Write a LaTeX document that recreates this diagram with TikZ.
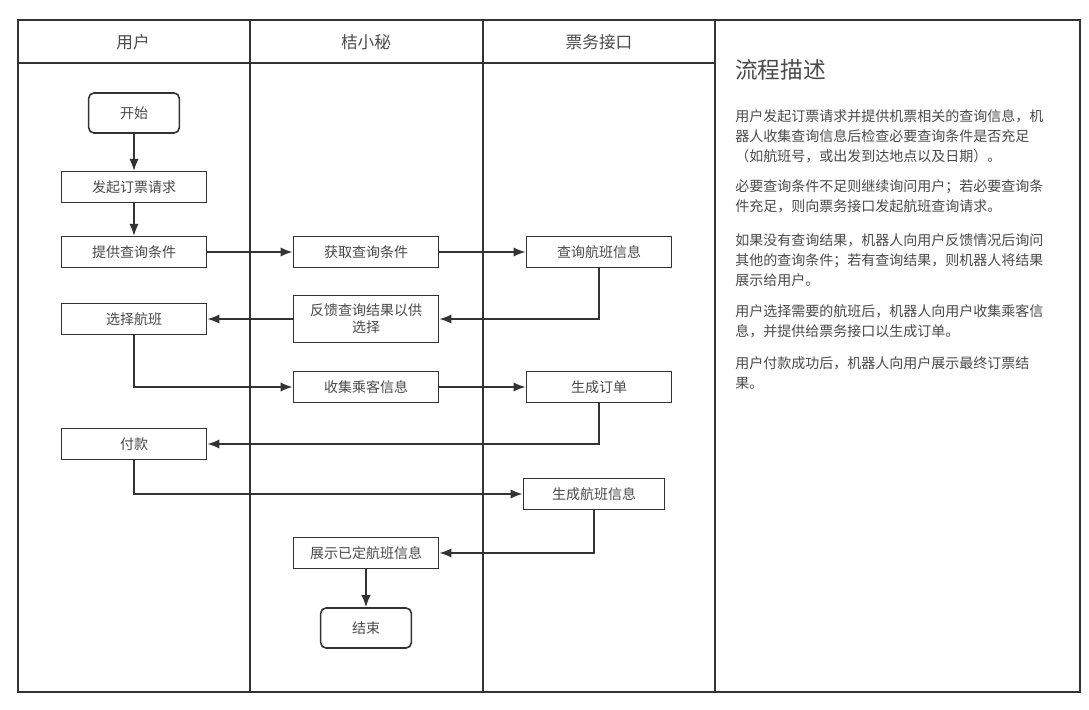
\documentclass[tikz,border=0pt]{standalone}
\usepackage{fontspec}
\setmainfont{Noto Sans CJK SC}
\usetikzlibrary{arrows.meta}
\definecolor{lanecol}{HTML}{333333}
\definecolor{txtcol}{HTML}{4A4A4A}

\begin{document}
\begin{tikzpicture}[x=0.75pt,y=-0.75pt,
    box/.style={draw=lanecol, line width=1.2pt, fill=white, text=txtcol,
      font=\fontsize{10.5}{12.75}\selectfont, minimum width=109pt,
      minimum height=23pt, align=center, inner sep=2pt},
    term/.style={box, rounded corners=4pt, minimum width=68pt, minimum height=30pt},
    flow/.style={draw=lanecol, line width=1.1pt, -{Latex[length=9pt,width=7pt]}},
    lanetxt/.style={text=txtcol, font=\fontsize{12.5}{14}\selectfont},
    desc/.style={anchor=north west, align=left, text=txtcol,
      font=\fontsize{10.5}{13.2}\selectfont, inner sep=0pt}]

      \useasboundingbox (0,0) rectangle (1089,710);

      % Swimlanes
      \draw[lanecol, line width=1.2pt] (18,20) rectangle (1080,692);
      \foreach \x in {250,483,715}
          \draw[lanecol, line width=1.2pt] (\x,20) -- (\x,692);
      \draw[lanecol, line width=1.6pt] (18,63) -- (715,63);

      % Lane titles
      \node[lanetxt] (hUser) at (133,42) {用户};
      \node[lanetxt] (hBot) at (366,42) {桔小秘};
      \node[lanetxt] (hApi) at (599,42) {票务接口};

      % Steps
      \node[term] (start) at (134,113) {开始};
      \node[box] (order) at (134,187) {发起订票请求};
      \node[box] (cond) at (134,252) {提供查询条件};
      \node[box] (getcond) at (366,252) {获取查询条件};
      \node[box] (query) at (599,252) {查询航班信息};
      \node[box, minimum height=35pt] (feedback) at (366,319) {反馈查询结果以供\\选择};
      \node[box] (choose) at (134,319) {选择航班};
      \node[box] (collect) at (366,387) {收集乘客信息};
      \node[box] (makeorder) at (599,387) {生成订单};
      \node[box] (pay) at (134,444) {付款};
      \node[box, minimum width=106pt] (flight) at (594,494) {生成航班信息};
      \node[box] (show) at (366,553) {展示已定航班信息};
      \node[term] (finish) at (366,628) {结束};

      % Connectors
      \draw[flow] (start) -- (order);
      \draw[flow] (order) -- (cond);
      \draw[flow] (cond) -- (getcond);
      \draw[flow] (getcond) -- (query);
      \draw[flow] (query.south) |- (feedback.east);
      \draw[flow] (feedback) -- (choose);
      \draw[flow] (choose.south) |- (collect.west);
      \draw[flow] (collect) -- (makeorder);
      \draw[flow] (makeorder.south) |- (pay.east);
      \draw[flow] (pay.south) |- (flight.west);
      \draw[flow] (flight.south) |- (show.east);
      \draw[flow] (show) -- (finish);

      % Description
      \node[anchor=west, text=txtcol, font=\fontsize{17}{20}\selectfont, inner sep=0pt] (title) at (735,70) {流程描述};
      \node[desc] (p1) at (735,109) {用户发起订票请求并提供机票相关的查询信息，机\\[2pt]器人收集查询信息后检查必要查询条件是否充足\\[2pt]（如航班号，或出发到达地点以及日期）。};
      \node[desc] (p2) at (735,179) {必要查询条件不足则继续询问用户；若必要查询条\\[2pt]件充足，则向票务接口发起航班查询请求。};
      \node[desc] (p3) at (735,233) {如果没有查询结果，机器人向用户反馈情况后询问\\[2pt]其他的查询条件；若有查询结果，则机器人将结果\\[2pt]展示给用户。};
      \node[desc] (p4) at (735,304) {用户选择需要的航班后，机器人向用户收集乘客信\\[2pt]息，并提供给票务接口以生成订单。};
      \node[desc] (p5) at (735,356) {用户付款成功后，机器人向用户展示最终订票结\\[2pt]果。};

\end{tikzpicture}
\end{document}
